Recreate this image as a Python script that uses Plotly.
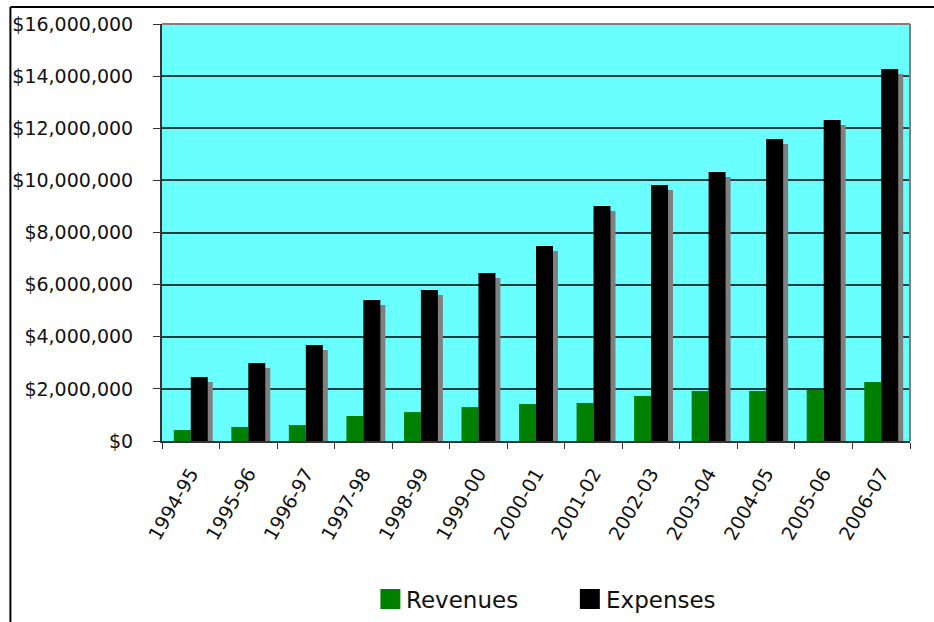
import plotly.graph_objects as go

# Fiscal years and annual totals (US dollars)
years = ["1994-95", "1995-96", "1996-97", "1997-98", "1998-99", "1999-00", "2000-01",
         "2001-02", "2002-03", "2003-04", "2004-05", "2005-06", "2006-07"]
revenues = [420000, 540000, 610000, 960000, 1110000, 1300000, 1420000,
            1460000, 1730000, 1920000, 1920000, 1960000, 2260000]
expenses = [2460000, 2990000, 3680000, 5410000, 5790000, 6450000, 7480000,
            9020000, 9820000, 10320000, 11590000, 12320000, 14270000]
y_ticks = list(range(0, 16000001, 2000000))
y_tick_labels = [f"${v:,}" for v in y_ticks]

W, H = 934, 622
L, R, T, B = 160, 24, 24, 181
PW, PH = W - L - R, H - T - B
Y_MAX = 16000000

def px_x(p):
    return (p - L) / PW

def px_y(p):
    return (H - B - p) / PH

BAR_W = 0.295
SHADOW_DX = 5 / (PW / len(years))
SHADOW_DY = 5 * Y_MAX / PH

FONT = "DejaVu Sans"

fig = go.Figure()

# drop shadow behind the expense bars
fig.add_trace(go.Bar(
    x=years, y=expenses, base=-SHADOW_DY, offset=SHADOW_DX, width=BAR_W,
    marker=dict(color="#808080", line=dict(width=0)), showlegend=False, hoverinfo="skip",
))
fig.add_trace(go.Bar(
    x=years, y=revenues, name="Revenues", offset=-BAR_W, width=BAR_W,
    marker=dict(color="#008000", line=dict(width=0)),
))
fig.add_trace(go.Bar(
    x=years, y=expenses, name="Expenses", offset=0, width=BAR_W,
    marker=dict(color="#000000", line=dict(width=0)),
))

shapes = [
    # outer frame (top and left edges)
    dict(type="line", xref="paper", yref="paper", x0=px_x(8), x1=px_x(W + 10),
         y0=px_y(7), y1=px_y(7), line=dict(color="black", width=2)),
    dict(type="line", xref="paper", yref="paper", x0=px_x(8), x1=px_x(8),
         y0=px_y(7), y1=px_y(H + 10), line=dict(color="black", width=2)),
    # plot area top/right border
    dict(type="line", xref="paper", yref="paper", x0=0, x1=1, y0=1, y1=1,
         line=dict(color="#808080", width=2)),
    dict(type="line", xref="paper", yref="paper", x0=1, x1=1, y0=0, y1=1,
         line=dict(color="#808080", width=2)),
]

annotations = []
legend_items = [("Revenues", "#008000", 379), ("Expenses", "#000000", 579)]
for label, color, x0 in legend_items:
    shapes.append(dict(type="rect", xref="paper", yref="paper",
                       x0=px_x(x0), x1=px_x(x0 + 20), y0=px_y(609), y1=px_y(589),
                       fillcolor=color, line=dict(width=0)))
    annotations.append(dict(xref="paper", yref="paper", x=px_x(x0 + 24), y=px_y(600),
                            xanchor="left", yanchor="middle", text=label, showarrow=False,
                            font=dict(family=FONT, size=23, color="#111111")))

fig.update_layout(
    width=W, height=H,
    margin=dict(l=L, r=R, t=T, b=B),
    paper_bgcolor="white",
    plot_bgcolor="#69FFFF",
    barmode="overlay",
    showlegend=False,
    shapes=shapes,
    annotations=annotations,
    font=dict(family=FONT, size=19, color="#111111"),
)

fig.update_xaxes(
    type="category", tickangle=-60, tickson="boundaries",
    ticks="outside", ticklen=6, tickcolor="#333333", tickwidth=1,
    showline=True, linecolor="#333333", linewidth=2,
    showgrid=False, ticklabelstandoff=12,
    tickfont=dict(family=FONT, size=19, color="#111111"),
)
fig.update_yaxes(
    range=[0, Y_MAX], tickvals=y_ticks, ticktext=y_tick_labels,
    ticks="outside", ticklen=7, tickcolor="#333333", tickwidth=1,
    showline=True, linecolor="#333333", linewidth=2,
    showgrid=True, gridcolor="#1f3f3f", gridwidth=1.5,
    zeroline=False, ticklabelstandoff=16,
    tickfont=dict(family=FONT, size=19, color="#111111"),
)

fig.write_html("out.html")
